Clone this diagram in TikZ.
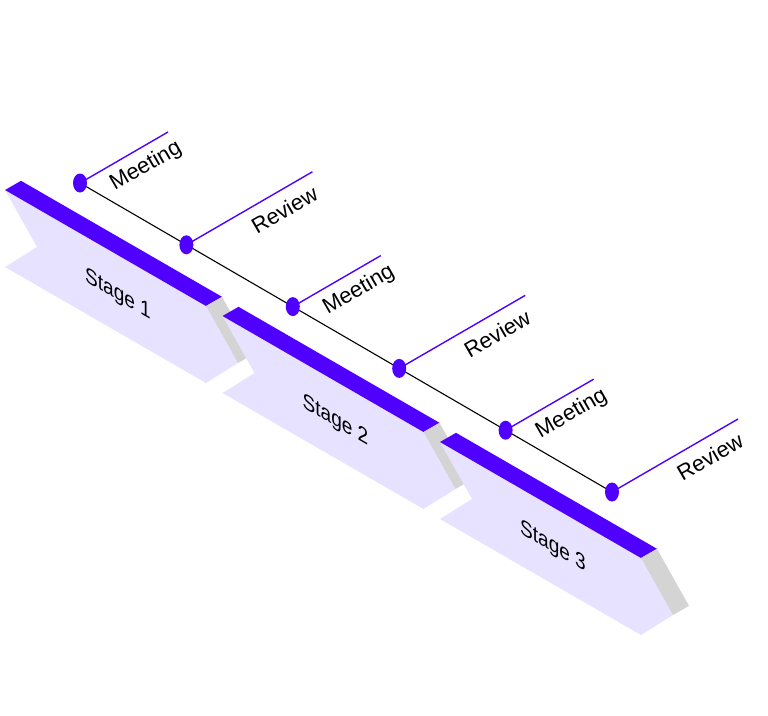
\documentclass[tikz,border=0pt]{standalone}
\usepackage{fontspec}
\setmainfont{Liberation Sans}
\usetikzlibrary{calc,shapes.geometric}
\definecolor{vio}{HTML}{5000FF}
\definecolor{lav}{HTML}{E6E2FF}
\definecolor{sidegrey}{HTML}{D4D4D4}
\tikzset{
  frontface/.style={fill=lav},
  topband/.style={fill=vio},
  sideface/.style={fill=sidegrey},
  stagetext/.style={font=\fontsize{22}{26}\selectfont, text=black, inner sep=0pt, cm={0.866,-0.5,0,1,(0,0)}},
  evtext/.style={font=\fontsize{22}{26}\selectfont, text=black, inner sep=0pt, rotate=30},
  evdot/.style={ellipse, fill=vio, draw=none, minimum width=14pt, minimum height=19pt, inner sep=0pt},
  timeline/.style={draw=black, line width=1.1pt},
  evline/.style={draw=vio, line width=1.4pt}
}
\newcommand{\drawstage}[3]{%
  \coordinate (#1A) at (#2);
  \coordinate (#1B) at ($(#1A)+(201,116)$);
  \coordinate (#1C) at ($(#1B)+(32,57)$);
  \coordinate (#1D) at ($(#1B)+(0,77)$);
  \coordinate (#1E) at ($(#1A)+(0,77)$);
  \coordinate (#1F) at ($(#1A)+(32,57)$);
  \fill[frontface] (#1A) -- (#1B) -- (#1C) -- (#1D) -- (#1E) -- (#1F) -- cycle;
  \fill[topband] (#1A) -- (#1B) -- ($(#1B)+(16,-9.2)$) -- ($(#1A)+(16,-9.2)$) -- cycle;
  \fill[sideface] (#1B) -- (#1C) -- ($(#1C)+(16,-9.2)$) -- ($(#1B)+(16,-9.2)$) -- cycle;
  \node[stagetext] (#1T) at ($(#1A)+(113,105)$) {#3};
}
\begin{document}
\begin{tikzpicture}[x=1pt,y=-1pt]
\path[use as bounding box] (0,0) rectangle (768,715);

% stages
\drawstage{s1}{5,190}{Stage 1}
\drawstage{s2}{222.5,316}{Stage 2}
\drawstage{s3}{440,442}{Stage 3}

% timeline points
\coordinate (p1) at (80,183);
\coordinate (p2) at (186.4,244.8);
\coordinate (p3) at (292.8,306.6);
\coordinate (p4) at (399.2,368.4);
\coordinate (p5) at (505.6,430.2);
\coordinate (p6) at (612,492);

\draw[timeline] (p1) -- (p6);

\coordinate (e1) at ($(p1)+(88,-51)$);
\coordinate (e2) at ($(p2)+(126,-73)$);
\coordinate (e3) at ($(p3)+(88,-51)$);
\coordinate (e4) at ($(p4)+(126,-73)$);
\coordinate (e5) at ($(p5)+(88,-51)$);
\coordinate (e6) at ($(p6)+(126,-73)$);
\foreach \i in {1,...,6} {\draw[evline] (p\i) -- (e\i);}

\foreach \i in {1,...,6} {\node[evdot] (d\i) at (p\i) {};}

\node[evtext] (l1) at ($(p1)+(66,-16.5)$) {Meeting};
\node[evtext] (l2) at ($(p2)+(98,-35)$) {Review};
\node[evtext] (l3) at ($(p3)+(66,-16.5)$) {Meeting};
\node[evtext] (l4) at ($(p4)+(98,-35)$) {Review};
\node[evtext] (l5) at ($(p5)+(66,-16.5)$) {Meeting};
\node[evtext] (l6) at ($(p6)+(98,-35)$) {Review};
\end{tikzpicture}
\end{document}
